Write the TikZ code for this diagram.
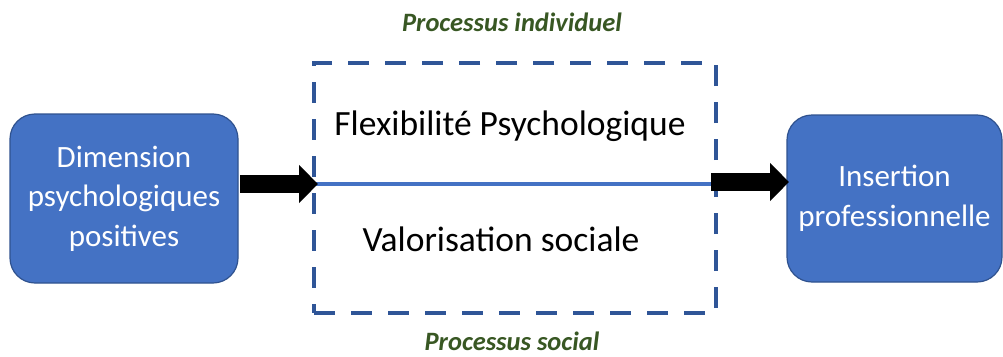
\documentclass[tikz,border=0pt]{standalone}
\usepackage{fontspec}
\setmainfont{Carlito}
\usetikzlibrary{arrows.meta}
\definecolor{boxblue}{HTML}{4472C4}
\definecolor{boxedge}{HTML}{2F528F}
\definecolor{dashblue}{HTML}{2F5597}
\definecolor{labgreen}{HTML}{385723}
\begin{document}
\begin{tikzpicture}[x=1pt,y=-1pt,
  bluebox/.style={draw=boxedge,line width=1.2pt,fill=boxblue,rounded corners=25pt,
    text=white,align=center,inner sep=0pt,font=\fontsize{31}{39.5}\selectfont},
  procbox/.style={draw=dashblue,line width=4pt,dash pattern=on 21pt off 16pt,
    inner sep=0pt},
  bigarrow/.style={line width=18pt,-{Triangle[length=19pt,width=37pt]}},
  proclabel/.style={text=labgreen,font=\fontsize{26.5}{30}\selectfont\bfseries\itshape},
  inner/.style={font=\fontsize{35.5}{40}\selectfont}]
\useasboundingbox (0,0) rectangle (1003,356);
\node[bluebox,minimum width=228pt,minimum height=169pt] (L) at (124,198.5)
  {Dimension\\psychologiques\\positives};
\node[bluebox,minimum width=215pt,minimum height=167pt] (R) at (894.5,198.5)
  {Insertion\\professionnelle};
\node[procbox,minimum width=402pt,minimum height=250pt] (D) at (515,188) {};
\coordinate (m1) at (314,184);
\coordinate (m2) at (716,184);
\draw[boxblue,line width=3.5pt] (m1) -- (m2);
\node[inner] (F) at (510,126) {Flexibilité Psychologique};
\node[inner] (V) at (501,239) {Valorisation sociale};
\node[proclabel] (PI) at (512,22) {Processus individuel};
\node[proclabel] (PS) at (512,341) {Processus social};
\coordinate (a1) at (240,184);
\coordinate (a2) at (318,184);
\coordinate (b1) at (711,182);
\coordinate (b2) at (789,182);
\draw[bigarrow] (a1) -- (a2);
\draw[bigarrow] (b1) -- (b2);
\end{tikzpicture}
\end{document}
